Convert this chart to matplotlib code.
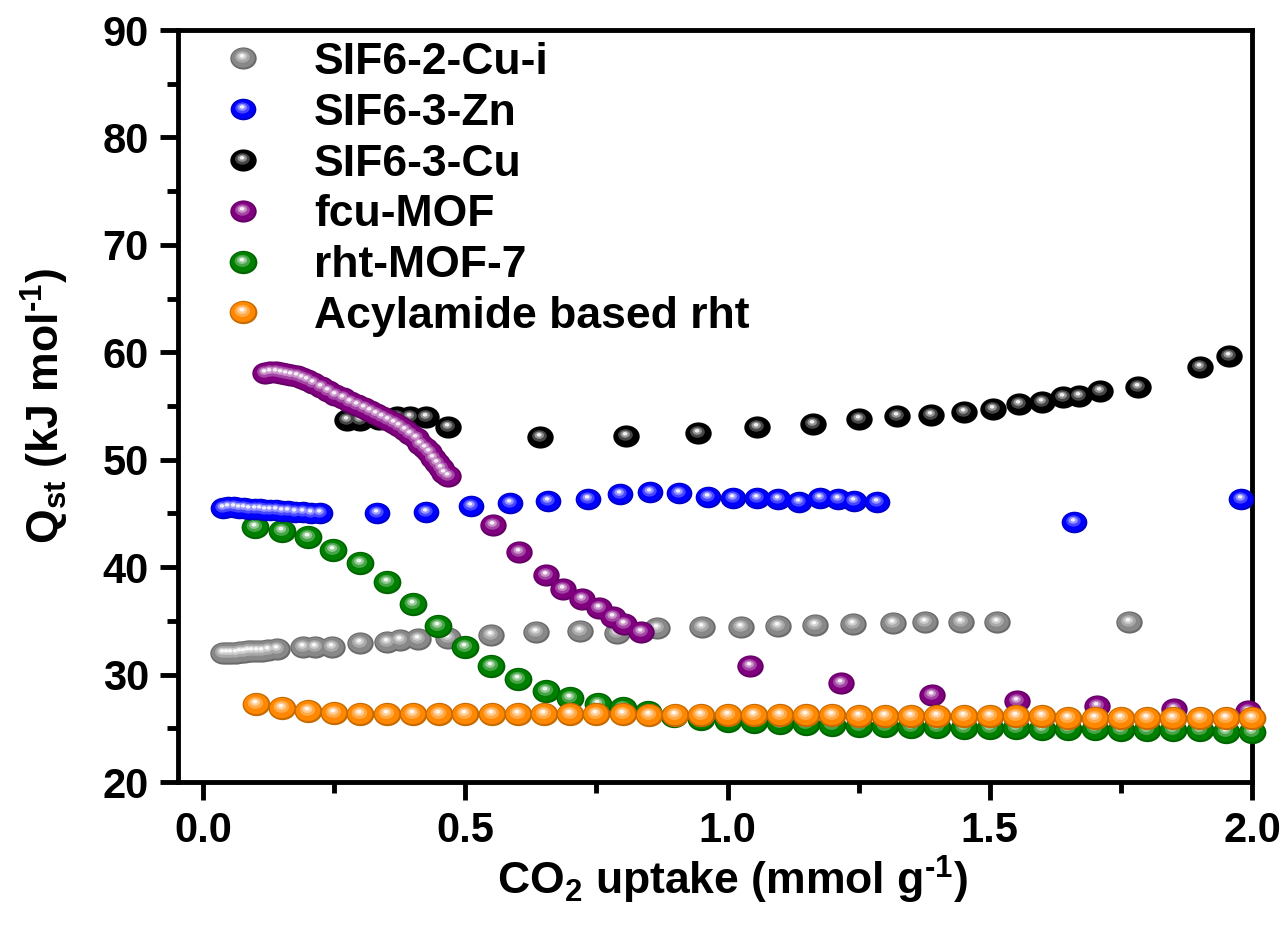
import numpy as np
import matplotlib
matplotlib.use("Agg")
import matplotlib.pyplot as plt
from matplotlib.path import Path
from matplotlib.transforms import Affine2D
from matplotlib.lines import Line2D
from matplotlib.legend_handler import HandlerTuple
from matplotlib.ticker import MultipleLocator, FormatStrFormatter
from matplotlib.colors import to_rgb

# SIF6-2-Cu-i
gray_x = [0.038, 0.046, 0.054, 0.062, 0.070, 0.078, 0.086, 0.094, 0.102, 0.112, 0.124, 0.140,
          0.191, 0.214, 0.246, 0.300, 0.351, 0.376, 0.410, 0.466, 0.548, 0.634, 0.719, 0.790,
          0.866, 0.952, 1.025, 1.097, 1.166, 1.240, 1.315, 1.376, 1.445, 1.513, 1.765]
gray_y = [32.0, 32.0, 32.05, 32.05, 32.1, 32.1, 32.15, 32.15, 32.2, 32.2, 32.25, 32.4,
          32.55, 32.6, 32.6, 32.9, 33.0, 33.2, 33.3, 33.4, 33.7, 34.0, 34.1, 33.9,
          34.3, 34.4, 34.4, 34.5, 34.6, 34.7, 34.8, 34.9, 34.9, 34.9, 34.9]

# SIF6-3-Zn
blue_x = [0.038, 0.048, 0.058, 0.068, 0.078, 0.088, 0.098, 0.108, 0.118, 0.128, 0.138, 0.150,
          0.162, 0.175, 0.190, 0.205, 0.222, 0.332, 0.424, 0.510, 0.586, 0.658, 0.733, 0.794,
          0.853, 0.908, 0.962, 1.010, 1.057, 1.097, 1.136, 1.176, 1.210, 1.242, 1.284, 1.660, 1.979]
blue_y = [45.5, 45.6, 45.6, 45.5, 45.5, 45.4, 45.4, 45.4, 45.3, 45.3, 45.3, 45.2,
          45.2, 45.1, 45.1, 45.0, 45.0, 45.0, 45.1, 45.7, 46.0, 46.2, 46.3, 46.8,
          47.0, 46.9, 46.5, 46.4, 46.4, 46.3, 46.1, 46.4, 46.3, 46.2, 46.1, 44.2, 46.3]

# SIF6-3-Cu
black_x = [0.275, 0.300, 0.335, 0.370, 0.395, 0.424, 0.466, 0.643, 0.807, 0.943, 1.057, 1.162,
           1.250, 1.324, 1.387, 1.450, 1.506, 1.555, 1.599, 1.639, 1.670, 1.710, 1.782, 1.901, 1.956]
black_y = [53.7, 53.7, 53.8, 54.0, 54.0, 54.0, 53.0, 52.1, 52.2, 52.5, 53.0, 53.3,
           53.8, 54.1, 54.2, 54.4, 54.7, 55.2, 55.4, 55.8, 55.9, 56.4, 56.8, 58.6, 59.7]

# fcu-MOF
purple_x = [0.118, 0.128, 0.138, 0.148, 0.158, 0.168, 0.178, 0.188, 0.198, 0.210, 0.224, 0.238,
            0.252, 0.266, 0.280, 0.293, 0.306, 0.318, 0.330, 0.341, 0.352, 0.363, 0.374, 0.385,
            0.395, 0.405, 0.414, 0.423, 0.431, 0.439, 0.446, 0.453, 0.459, 0.466,
            0.552, 0.603, 0.653, 0.687, 0.723, 0.754, 0.782, 0.802, 0.834,
            1.042, 1.216, 1.389, 1.552, 1.704, 1.851, 1.992]
purple_y = [58.1, 58.2, 58.2, 58.1, 58.0, 57.9, 57.8, 57.6, 57.4, 57.1, 56.8, 56.4,
            56.0, 55.7, 55.4, 55.1, 54.8, 54.5, 54.3, 54.0, 53.7, 53.4, 53.1, 52.8,
            52.4, 52.0, 51.5, 51.1, 50.7, 50.2, 49.7, 49.2, 48.8, 48.5,
            43.9, 41.4, 39.3, 38.0, 37.0, 36.2, 35.4, 34.7, 34.0,
            30.8, 29.2, 28.1, 27.5, 27.1, 26.8, 26.6]

# rht-MOF-7
green_x = [0.099, 0.151, 0.200, 0.248, 0.300, 0.351, 0.401, 0.448, 0.500, 0.548, 0.601, 0.653,
           0.700, 0.752, 0.800, 0.849, 0.897, 0.95, 1.00, 1.05, 1.10, 1.15, 1.20, 1.25, 1.30,
           1.35, 1.40, 1.45, 1.50, 1.55, 1.60, 1.65, 1.70, 1.75, 1.80, 1.85, 1.90, 1.95, 2.00]
green_y = [43.7, 43.4, 42.8, 41.6, 40.4, 38.6, 36.6, 34.5, 32.6, 30.8, 29.6, 28.5,
           27.8, 27.3, 26.9, 26.5, 26.1, 25.9, 25.7, 25.6, 25.5, 25.4, 25.3, 25.2, 25.2,
           25.1, 25.1, 25.0, 25.0, 25.0, 24.9, 24.9, 24.9, 24.8, 24.8, 24.8, 24.8, 24.7, 24.7]

# Acylamide based rht
orange_x = [0.10, 0.15, 0.20, 0.25, 0.30, 0.35, 0.40, 0.45, 0.50, 0.55, 0.60, 0.65, 0.70,
            0.75, 0.80, 0.85, 0.90, 0.95, 1.00, 1.05, 1.10, 1.15, 1.20, 1.25, 1.30, 1.35,
            1.40, 1.45, 1.50, 1.55, 1.60, 1.65, 1.70, 1.75, 1.80, 1.85, 1.90, 1.95, 2.00]
orange_y = [27.3, 26.9, 26.6, 26.4, 26.3, 26.3, 26.3, 26.3, 26.3, 26.3, 26.3, 26.3, 26.3,
            26.3, 26.3, 26.2, 26.2, 26.2, 26.2, 26.2, 26.2, 26.2, 26.2, 26.1, 26.1, 26.1,
            26.1, 26.1, 26.1, 26.1, 26.1, 26.0, 26.0, 26.0, 26.0, 26.0, 26.0, 26.0, 26.0]

# (label, x, y, colour, marker size, zorder); listed in legend order
series = [
    ("SIF6-2-Cu-i", gray_x, gray_y, "#888888", 19.0, 2),
    ("SIF6-3-Zn", blue_x, blue_y, "#0000ff", 18.5, 5),
    ("SIF6-3-Cu", black_x, black_y, "#000000", 19.0, 3),
    ("fcu-MOF", purple_x, purple_y, "#800080", 19.0, 6),
    ("rht-MOF-7", green_x, green_y, "#008000", 20.0, 4),
    ("Acylamide based rht", orange_x, orange_y, "#ff8800", 20.0, 7),
]

plt.rcParams['font.family'] = ['Liberation Sans', 'DejaVu Sans']
plt.rcParams['font.weight'] = 'bold'
plt.rcParams['mathtext.fontset'] = 'custom'
plt.rcParams['mathtext.rm'] = 'Liberation Sans:bold'
plt.rcParams['mathtext.bf'] = 'Liberation Sans:bold'
plt.rcParams['mathtext.it'] = 'Liberation Sans:bold'
plt.rcParams['mathtext.default'] = 'bf'

ASPECT = 0.84  # balls are a little wider than tall


def ellipse_marker(cx, cy, rx, ry):
    # ellipse path plus a lone anchor point so all layers share one scale
    circ = Path.circle((0, 0), 1.0)
    circ = circ.transformed(Affine2D().scale(rx, ry * ASPECT).translate(cx, cy * ASPECT))
    anchor = Path([[1.0, 0.0]], [Path.MOVETO])
    return Path.make_compound_path(circ, anchor)


def blend(c, w):
    c = np.array(to_rgb(c))
    return tuple(c + (1 - c) * w)


def darken(c, f):
    return tuple(np.array(to_rgb(c)) * f)


def layers(color):
    return [
        (ellipse_marker(0, 0, 1.0, 1.0), darken(color, 0.78)),
        (ellipse_marker(-0.03, 0.04, 0.88, 0.86), to_rgb(color)),
        (ellipse_marker(-0.08, 0.14, 0.56, 0.52), blend(color, 0.28)),
        (ellipse_marker(-0.1, 0.2, 0.36, 0.32), blend(color, 0.58)),
        (ellipse_marker(-0.11, 0.24, 0.18, 0.16), blend(color, 0.94)),
    ]


fig = plt.figure(figsize=(12.85, 9.31), dpi=100)
ax = fig.add_axes([178 / 1285, 1 - 782 / 931, 1074 / 1285, 752 / 931])

handles = []
labels = []
for label, xs, ys, color, ms, z in series:
    lay = layers(color)
    for xi, yi in zip(xs, ys):
        for k, (mk, fc) in enumerate(lay):
            ax.plot([xi], [yi], linestyle='none', marker=mk, markersize=ms,
                    markerfacecolor=fc, markeredgewidth=0, zorder=z + k * 0.01,
                    clip_on=False)
    h = tuple(Line2D([], [], linestyle='none', marker=mk, markersize=ms,
                     markerfacecolor=fc, markeredgewidth=0) for mk, fc in lay)
    handles.append(h)
    labels.append(label)

ax.set_xlim(-0.048, 2.0)
ax.set_ylim(20, 90)
ax.xaxis.set_major_locator(MultipleLocator(0.5))
ax.xaxis.set_minor_locator(MultipleLocator(0.25))
ax.xaxis.set_major_formatter(FormatStrFormatter('%.1f'))
ax.yaxis.set_major_locator(MultipleLocator(10))
ax.yaxis.set_minor_locator(MultipleLocator(5))

for sp in ax.spines.values():
    sp.set_linewidth(3.5)
ax.tick_params(which='major', direction='out', length=13, width=3.5, labelsize=30, pad=8,
               top=False, right=False)
ax.tick_params(which='minor', direction='out', length=8, width=3.5, top=False, right=False)

ax.set_xlabel(r'CO$_2$ uptake (mmol g$^{\text{-}1}$)', fontsize=32, fontweight='bold')
ax.set_ylabel(r'Q$_{st}$ (kJ mol$^{\text{-}1}$)', fontsize=32, fontweight='bold')
ax.xaxis.set_label_coords(0.516, -0.095)
ax.yaxis.set_label_coords(-0.1, 0.5)

ax.legend(handles, labels, handler_map={tuple: HandlerTuple(ndivide=1)},
          loc='upper left', bbox_to_anchor=(0.04, 0.984), frameon=False,
          fontsize=32, labelspacing=0.22, handletextpad=1.09, borderaxespad=0,
          borderpad=0, handlelength=1.0)

fig.savefig("out.png", dpi=100)
